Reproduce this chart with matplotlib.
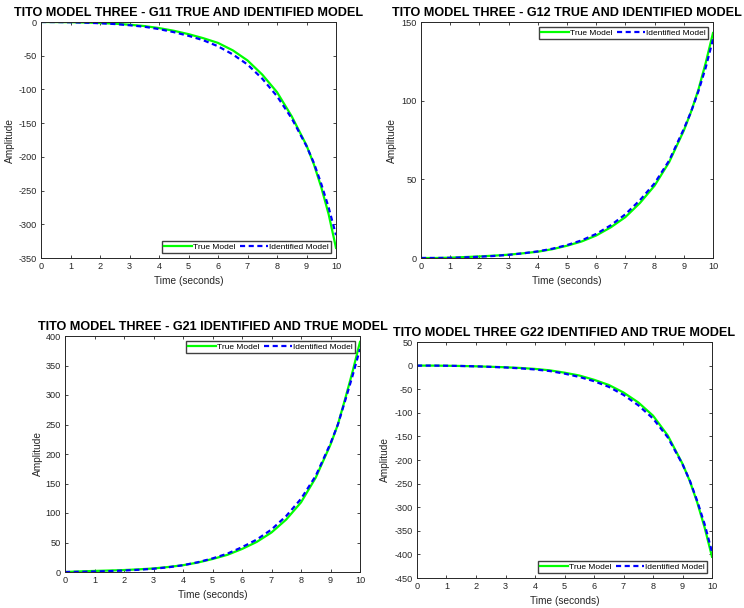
import matplotlib
matplotlib.use("Agg")
import matplotlib.pyplot as plt

# time samples (seconds)
t = [0, 0.5, 1, 1.5, 2, 2.5, 3, 3.5, 4, 4.5, 5, 5.5, 6, 6.5, 7, 7.5, 8, 8.5, 9, 9.25, 9.5, 9.75, 10]

g11_true = [0, -0.1, -0.3, -0.8, -1.5, -2.5, -4, -6, -9, -13, -18, -24, -31, -42, -57, -78, -104, -140, -183,
            -211, -245, -285, -335]
g11_ident = [0, -0.1, -0.4, -1, -1.8, -3, -4.8, -7, -10.5, -15, -20.5, -27, -36, -48, -63, -84, -110, -143, -184,
             -209, -240, -275, -316]

g12_true = [0, 0, 0.2, 0.6, 1, 1.5, 2.1, 3, 4, 5.6, 7.8, 10.5, 14.3, 19.5, 26, 35, 46, 61, 81, 93, 107, 124, 143]
g12_ident = [0, 0, 0.1, 0.4, 0.8, 1.3, 2, 3, 4.2, 5.9, 8.2, 11.2, 15.3, 20.8, 27.8, 36.8, 47.5, 62, 82, 93, 106,
             121, 139]

g21_true = [0, 1, 1.8, 2.5, 3.3, 4.5, 6, 8.5, 11.5, 16, 22, 29, 39, 51, 67, 89, 118, 160, 216, 250, 294, 340, 390]
g21_ident = [0, 0.3, 0.8, 1.5, 2.5, 3.8, 5.5, 8, 11.5, 16.5, 23, 31, 42, 55, 72, 95, 124, 163, 218, 250, 291, 333,
             378]

g22_true = [0, 0, -0.3, -0.8, -1.5, -2.5, -3.5, -5, -7, -10, -15, -21, -30, -41, -57, -78, -106, -148, -208, -245,
            -290, -343, -405]
g22_ident = [0, 0, -0.3, -0.8, -1.6, -2.7, -4, -5.8, -8.2, -11.5, -17, -24, -33, -45, -62, -84, -112, -152, -209,
             -244, -287, -336, -395]

titles = ["TITO MODEL THREE - G11 TRUE AND IDENTIFIED MODEL",
          "TITO MODEL THREE - G12 TRUE AND IDENTIFIED MODEL",
          "TITO MODEL THREE - G21 IDENTIFIED AND TRUE MODEL",
          "TITO MODEL THREE G22 IDENTIFIED AND TRUE MODEL"]
y_limits = [(-350, 0), (0, 150), (0, 400), (-450, 50)]
legend_locs = ["lower right", "upper right", "upper right", "lower right"]
series = [(g11_true, g11_ident), (g12_true, g12_ident), (g21_true, g21_ident), (g22_true, g22_ident)]

plt.rcParams['font.family'] = ['Liberation Sans', 'DejaVu Sans']
plt.rcParams['axes.unicode_minus'] = False

fig = plt.figure(figsize=(7.44, 6.08), dpi=100)

# axes boxes in figure pixels (left, top, right, bottom)
boxes = [(41, 22, 336, 258), (421, 22, 713, 258), (65, 336, 360, 572), (417, 342, 712, 578)]
ylabel_x = [-0.088, -0.082, -0.075, -0.092]

dark = (0.15, 0.15, 0.15)

for i, (l, top, r, b) in enumerate(boxes):
    ax = fig.add_axes([l / 744, 1 - b / 608, (r - l) / 744, (b - top) / 608])
    true_vals, ident_vals = series[i]
    ax.plot(t, true_vals, color=(0, 1, 0), lw=1.6, label="True Model")
    ax.plot(t, ident_vals, color=(0, 0, 1), lw=1.6, dashes=(2.3, 1.6), label="Identified Model")

    ax.set_xlim(0, 10)
    ax.set_ylim(*y_limits[i])
    ax.set_xticks(range(0, 11))
    lo, hi = y_limits[i]
    ax.set_yticks(range(lo, hi + 1, 50))

    ax.tick_params(direction='in', length=2.5, width=0.6, top=True, right=True, labelsize=6.6,
                   colors=dark, pad=3)
    for sp in ax.spines.values():
        sp.set_color(dark)
        sp.set_linewidth(0.7)

    ax.set_xlabel("Time (seconds)", fontsize=7.3, color=dark)
    ax.set_ylabel("Amplitude", fontsize=7.3, color=dark)
    ax.xaxis.set_label_coords(0.5, -0.076)
    ax.yaxis.set_label_coords(ylabel_x[i], 0.5)

    ax.set_title(titles[i], fontsize=9.1, fontweight='bold', color='black', pad=4.5)

    leg = ax.legend(loc=legend_locs[i], ncol=2, fontsize=6, handlelength=3.3, handletextpad=0.15,
                    columnspacing=0.6, borderpad=0.25, borderaxespad=0.6, fancybox=False, framealpha=1)
    leg.get_frame().set_edgecolor((0.25, 0.25, 0.25))
    leg.get_frame().set_linewidth(1.0)

fig.savefig("out.png", dpi=100)
